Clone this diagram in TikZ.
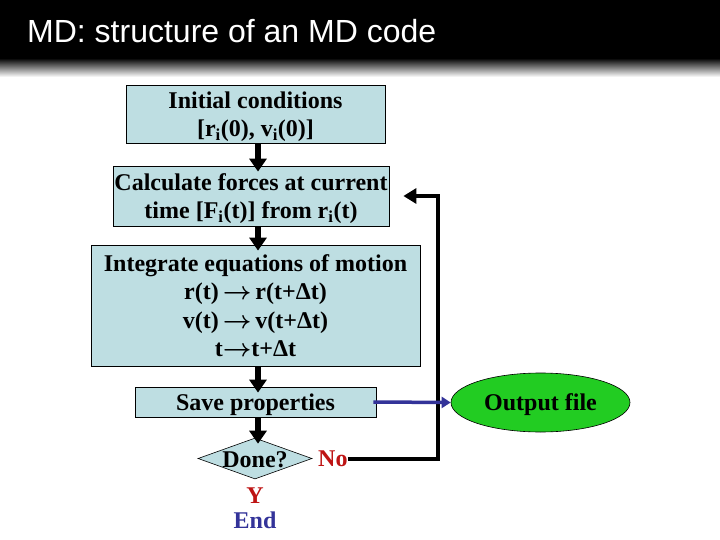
\documentclass[tikz,border=0pt]{standalone}
\usepackage{amsmath}
\usepackage{fontspec}
\setmainfont{Liberation Serif}
\newfontfamily\titlefont{Liberation Sans}
\usetikzlibrary{arrows.meta,shapes.geometric}
\definecolor{boxfill}{RGB}{190,222,226}
\definecolor{outgreen}{RGB}{34,204,34}
\definecolor{nored}{RGB}{190,20,20}
\definecolor{endblue}{RGB}{51,51,153}
\newcommand{\myarr}{\,$\boldsymbol{\rightarrow}$\,}
\tikzset{
  box/.style={draw=black, line width=0.8pt, fill=boxfill, inner sep=0pt, align=center,
    text depth=0pt, font=\fontsize{24}{28.5}\selectfont\bfseries},
  txt/.style={inner sep=0pt, align=center, font=\fontsize{24}{28.5}\selectfont\bfseries},
  flowarrow/.style={line width=5.5pt, -{Triangle[width=17pt,length=13pt]}, shorten >=-6pt},
  looparrow/.style={line width=4pt, -{Triangle[width=15pt,length=13pt]}},
  bluearrow/.style={line width=3.5pt, draw=endblue, -{Triangle[width=11pt,length=9pt]}},
}
\begin{document}
\begin{tikzpicture}[x=1pt,y=-1pt]
\useasboundingbox (0,0) rectangle (720,540);
\fill[white] (0,0) rectangle (720,540);
% header
\fill[black] (0,0) rectangle (720,58);
\shade[top color=black, bottom color=white] (0,58) rectangle (720,77);
\node[anchor=base west, inner sep=0pt, text=white, font=\titlefont\fontsize{32}{36}\selectfont] (title) at (27,43) {MD: structure of an MD code};
% boxes
\node[box, minimum width=259pt, minimum height=58pt] (init) at (255.5,114)
  {Initial conditions\\{}[r\textsubscript{i}(0), v\textsubscript{i}(0)]};
\node[box, minimum width=276pt, minimum height=60pt] (forces) at (251,196)
  {Calculate forces at current\\time [F\textsubscript{i}(t)] from r\textsubscript{i}(t)};
\node[box, minimum width=329pt, minimum height=121pt] (integ) at (255.5,305.5)
  {Integrate equations of motion\\r(t)\myarr r(t+Δt)\\v(t)\myarr v(t+Δt)\\t$\boldsymbol{\rightarrow}$t+Δt};
\node[box, minimum width=241pt, minimum height=30pt] (save) at (255.5,402)
  {Save properties};
\node[draw=black, line width=0.6pt, fill=boxfill, diamond, inner sep=0pt,
  minimum width=114pt, minimum height=41pt] (done) at (255,458.5) {};
\node[txt, yshift=-1.5pt] (donetxt) at (done) {Done?};
\node[txt, text=nored, anchor=west] (no) at (318,459) {No};
\node[txt, text=nored] (y) at (255,496) {Y};
\node[txt, text=endblue] (endn) at (255,520) {End};
\node[draw=black, line width=0.6pt, fill=outgreen, ellipse, inner sep=0pt, text depth=0pt,
  minimum width=179pt, minimum height=59pt, font=\fontsize{24}{28.5}\selectfont\bfseries] (out) at (540.5,402.5) {Output file};
% connectors
\coordinate (ax) at (258,0);
\draw[flowarrow] (init.south -| ax) -- (forces.north -| ax);
\draw[flowarrow] (forces.south -| ax) -- (integ.north -| ax);
\draw[flowarrow] (integ.south -| ax) -- (save.north -| ax);
\draw[flowarrow] (save.south -| ax) -- (done.north -| ax);
\draw[looparrow] (no.east) -| ([xshift=49pt]forces.east) -- ([xshift=14pt]forces.east);
\draw[bluearrow] ([xshift=-3pt]save.east) -- (out.west);
\end{tikzpicture}
\end{document}
